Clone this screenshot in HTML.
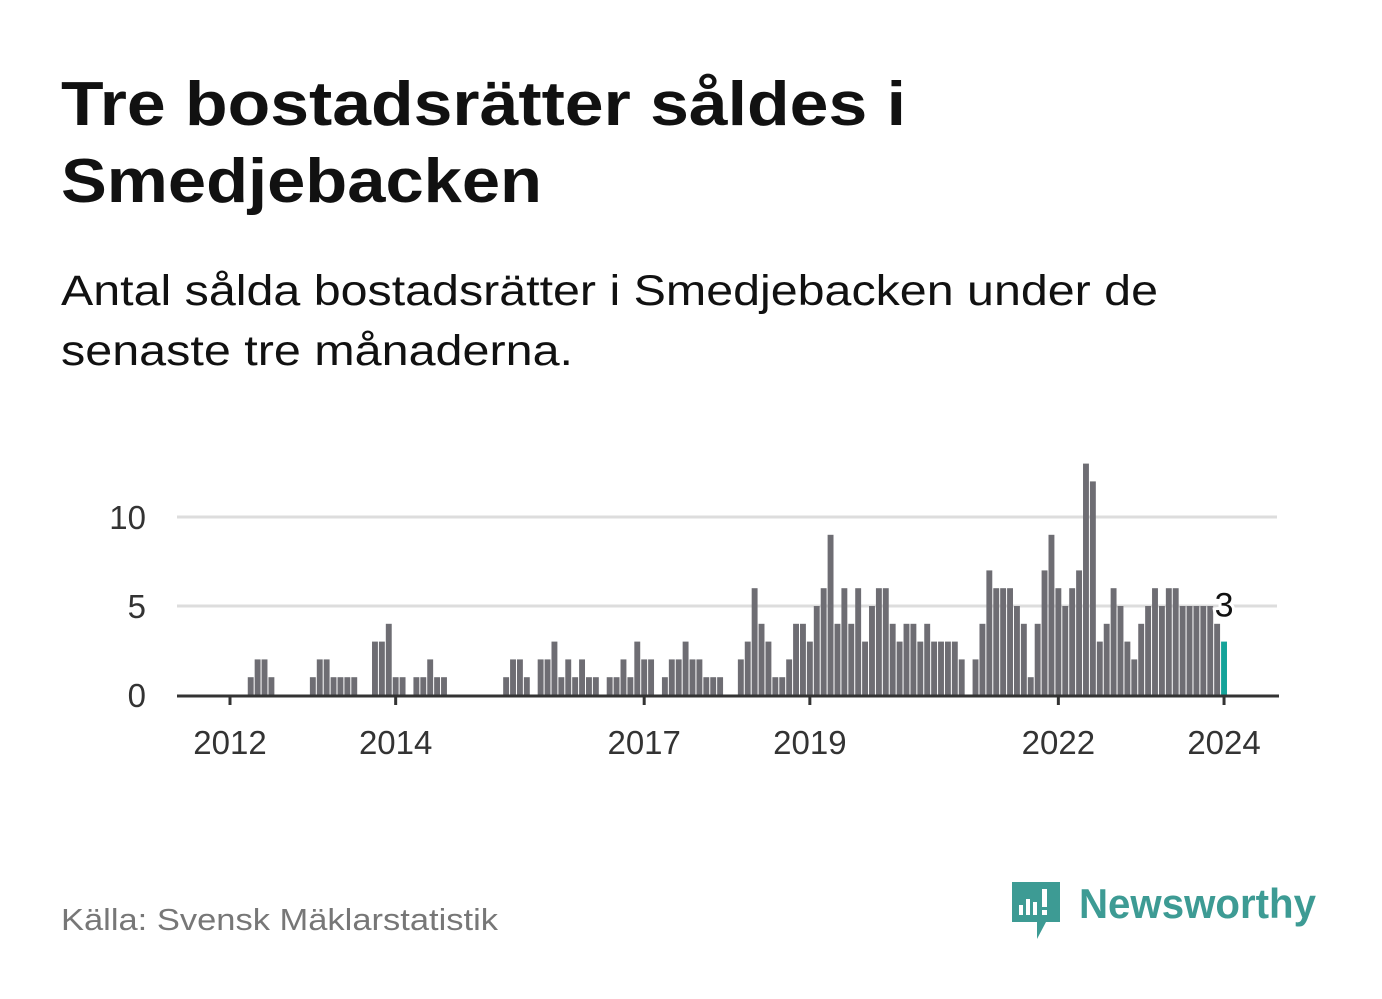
<!DOCTYPE html>
<html><head><meta charset="utf-8"><style>
body{margin:0;background:#fff;}
svg{display:block;font-family:"Liberation Sans","DejaVu Sans",sans-serif;}
</style></head><body>
<svg id="c" width="1382" height="999" viewBox="0 0 1382 999">
<text x="61" y="125" font-size="62" font-weight="bold" fill="#111" textLength="845" lengthAdjust="spacingAndGlyphs">Tre bostadsrätter såldes i</text>
<text x="61" y="202" font-size="62" font-weight="bold" fill="#111" textLength="481" lengthAdjust="spacingAndGlyphs">Smedjebacken</text>
<text x="61" y="305" font-size="43" fill="#111" textLength="1097" lengthAdjust="spacingAndGlyphs">Antal sålda bostadsrätter i Smedjebacken under de</text>
<text x="61" y="365" font-size="43" fill="#111" textLength="512" lengthAdjust="spacingAndGlyphs">senaste tre månaderna.</text>
<g id="grid"></g><g id="bars"></g><g id="axis"></g>
<text x="61" y="930" font-size="31" fill="#777" textLength="437" lengthAdjust="spacingAndGlyphs">Källa: Svensk Mäklarstatistik</text>
<g>
<path d="M1012 882 h48 v40 h-14 l-9 17 v-17 h-25 z" fill="#3d9b94"/>
<rect x="1019" y="905" width="4" height="10" fill="#fff"/><rect x="1026" y="899" width="4" height="16" fill="#fff"/><rect x="1033" y="902" width="4" height="13" fill="#fff"/><rect x="1042" y="889" width="5" height="18" fill="#fff"/><rect x="1042" y="910" width="5" height="5" fill="#fff"/>
<text x="1079" y="918" font-size="42" font-weight="bold" fill="#3d9b94" textLength="237" lengthAdjust="spacingAndGlyphs">Newsworthy</text>
</g>
</svg>
<script>
const startYear = 2011, startMonth = 5; // June 2011 (0-based month)
const values = [0,0,0,0,0,0,0,0,0,0,
1,2,2,1,0,0,0,0,0,1,2,2,1,1,1,1,0,0,3,3,4,1,1,0,1,1,2,1,1,
0,0,0,0,0,0,0,0,1,2,2,1,0,2,2,3,1,2,1,2,1,1,0,1,1,2,1,3,2,2,0,1,2,2,3,2,2,1,1,1,0,0,
2,3,6,4,3,1,1,2,4,4,3,5,6,9,4,6,4,6,3,5,6,6,4,3,4,4,3,4,3,3,3,3,2,0,
2,4,7,6,6,6,5,4,1,4,7,9,6,5,6,7,13,12,3,4,6,5,3,2,4,5,6,5,6,6,5,5,5,5,5,4,3];
const yTicks = [0,5,10];
const xTickLabels = ["2012","2014","2017","2019","2022","2024"];
const NS="http://www.w3.org/2000/svg";
const x0=230, px=6.903, y0=695, py=17.8;
function xPos(i){ const idx=i+startMonth+(startYear-2012)*12; return x0+idx*px; }
function xYear(y){ return x0+(y-2012)*12*px; }
function yPos(v){ return y0-v*py; }
function mk(t,a,p){const e=document.createElementNS(NS,t);for(const k in a)e.setAttribute(k,a[k]);p.appendChild(e);return e;}
const grid=document.getElementById('grid'),bars=document.getElementById('bars'),axis=document.getElementById('axis');
yTicks.forEach(v=>{
  if(v>0){const l=mk('line',{x1:177,x2:1277,y1:yPos(v),y2:yPos(v),stroke:'#ddd','stroke-width':3},grid);
  
  }
  const t=mk('text',{x:146,y:yPos(v)+12,'text-anchor':'end','font-size':33,fill:'#333'},grid);
  t.textContent=v;
  
  
});
values.forEach((v,i)=>{
  if(v<=0)return;
  const last=i===values.length-1;
  const r=mk('rect',{x:xPos(i)-2.95,y:yPos(v),width:5.9,height:v*py,fill:last?'#14a399':'#6e6d73'},bars);
  
  
});
const al=mk('line',{x1:177,x2:1279,y1:y0+1,y2:y0+1,stroke:'#333','stroke-width':3},axis);


xTickLabels.forEach(s=>{
  const x=xYear(+s);
  const tk=mk('line',{x1:x,x2:x,y1:y0,y2:y0+10,stroke:'#333','stroke-width':3},axis);
  
  
  const t=mk('text',{x:x,y:754,'text-anchor':'middle','font-size':33,fill:'#333'},axis);
  t.textContent=s;
  
  
});
const li=values.length-1;
const lab=mk('text',{x:xPos(li),y:yPos(values[li])-25,'text-anchor':'middle','font-size':34,fill:'#111',stroke:'#fff','stroke-width':6,'paint-order':'stroke'},axis);
lab.textContent=values[li];


</script>
</body></html>
